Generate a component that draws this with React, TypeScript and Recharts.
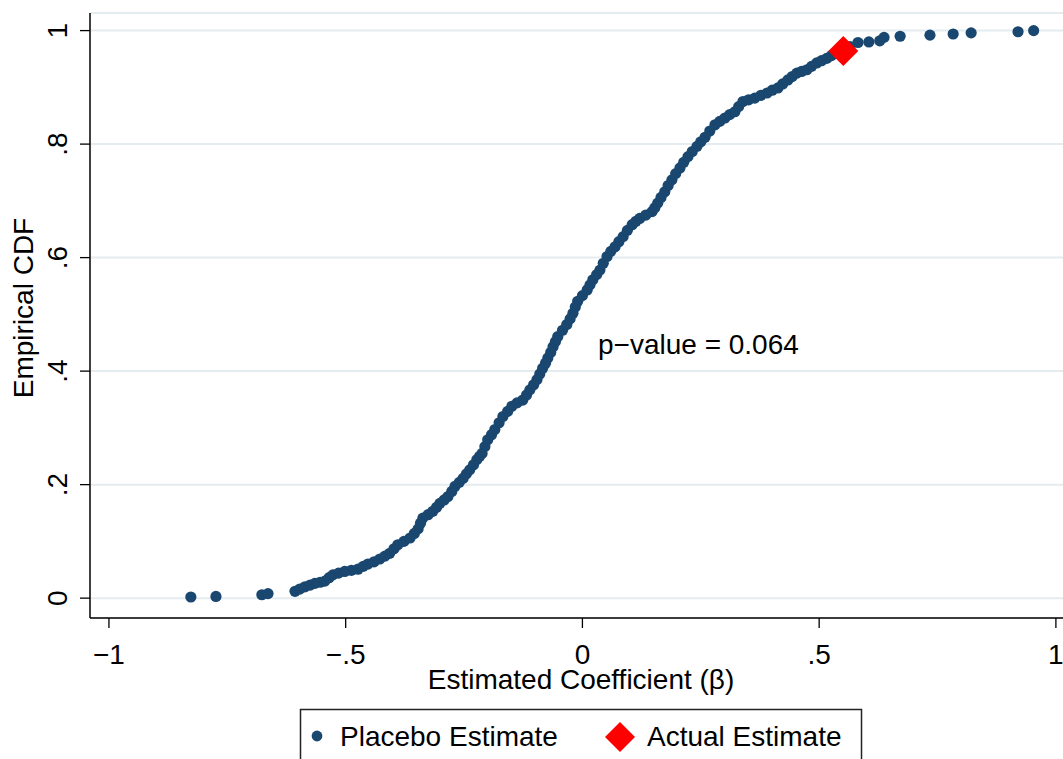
import { CartesianGrid, Scatter, ScatterChart, XAxis, YAxis, Label } from "recharts";

const NAVY = "#1a476f";
const RED = "#ff0000";
const GRID = "#e4ecef";
const FONT = "'Liberation Sans', Arial, Helvetica, sans-serif";

// sorted placebo coefficients and their empirical CDF
const placeboX = [
  -0.827, -0.774, -0.677, -0.664, -0.607, -0.597, -0.586, -0.575, -0.565, -0.554,
  -0.544, -0.535, -0.527, -0.515, -0.502, -0.488, -0.474, -0.463, -0.453, -0.44,
  -0.428, -0.417, -0.407, -0.398, -0.39, -0.377, -0.364, -0.355, -0.347, -0.342,
  -0.337, -0.326, -0.316, -0.308, -0.301, -0.292, -0.284, -0.276, -0.269, -0.26,
  -0.252, -0.245, -0.238, -0.23, -0.223, -0.217, -0.212, -0.206, -0.2, -0.192,
  -0.185, -0.176, -0.168, -0.158, -0.149, -0.138, -0.126, -0.118, -0.111, -0.103,
  -0.096, -0.09, -0.084, -0.078, -0.073, -0.067, -0.062, -0.057, -0.052, -0.042,
  -0.033, -0.026, -0.02, -0.015, -0.01, 0.0, 0.01, 0.016, 0.022, 0.03,
  0.037, 0.044, 0.052, 0.06, 0.069, 0.077, 0.086, 0.095, 0.105, 0.113,
  0.121, 0.134, 0.147, 0.153, 0.159, 0.166, 0.174, 0.181, 0.189, 0.197,
  0.206, 0.214, 0.223, 0.232, 0.242, 0.25, 0.259, 0.269, 0.28, 0.29,
  0.301, 0.311, 0.322, 0.33, 0.339, 0.351, 0.364, 0.377, 0.39, 0.401,
  0.413, 0.423, 0.434, 0.443, 0.453, 0.463, 0.474, 0.484, 0.495, 0.505,
  0.516, 0.526, 0.537, 0.551, 0.565, 0.582, 0.605, 0.628, 0.637, 0.671,
  0.734, 0.783, 0.821, 0.92, 0.953,
];
const placeboY = [
  0.002, 0.003, 0.006, 0.008, 0.012, 0.016, 0.02, 0.023, 0.026, 0.028,
  0.03, 0.036, 0.041, 0.044, 0.047, 0.049, 0.051, 0.056, 0.06, 0.064,
  0.069, 0.074, 0.079, 0.087, 0.094, 0.1, 0.106, 0.114, 0.122, 0.132,
  0.141, 0.147, 0.153, 0.16, 0.167, 0.173, 0.179, 0.188, 0.197, 0.204,
  0.211, 0.219, 0.226, 0.235, 0.244, 0.25, 0.255, 0.267, 0.279, 0.288,
  0.297, 0.309, 0.32, 0.329, 0.338, 0.344, 0.349, 0.358, 0.367, 0.376,
  0.385, 0.395, 0.405, 0.414, 0.423, 0.433, 0.443, 0.452, 0.461, 0.472,
  0.482, 0.492, 0.502, 0.513, 0.523, 0.533, 0.543, 0.552, 0.561, 0.57,
  0.578, 0.59, 0.602, 0.611, 0.619, 0.628, 0.637, 0.648, 0.658, 0.664,
  0.669, 0.675, 0.681, 0.688, 0.696, 0.706, 0.716, 0.727, 0.737, 0.748,
  0.758, 0.768, 0.778, 0.787, 0.796, 0.804, 0.812, 0.823, 0.834, 0.84,
  0.846, 0.852, 0.857, 0.866, 0.875, 0.878, 0.881, 0.886, 0.89, 0.895,
  0.899, 0.906, 0.913, 0.919, 0.925, 0.928, 0.931, 0.937, 0.943, 0.947,
  0.951, 0.956, 0.96, 0.966, 0.972, 0.979, 0.98, 0.982, 0.988, 0.99,
  0.992, 0.994, 0.996, 0.998, 1.0,
];

const actualX = [0.551];
const actualY = [0.964];

const xTicks = [-1, -0.5, 0, 0.5, 1];
const xTickLabels = ["\u22121", "\u2212.5", "0", ".5", "1"];
const yTicks = [0, 0.2, 0.4, 0.6, 0.8, 1];
const yTickLabels = ["0", ".2", ".4", ".6", ".8", "1"];

const pValueText = "p\u2212value = 0.064";

const placebo = placeboX.map((x, i) => ({ x, y: placeboY[i] }));
const actual = actualX.map((x, i) => ({ x, y: actualY[i] }));

function Dot(props: any) {
  const { cx, cy } = props;
  return <circle cx={cx} cy={cy} r={5.6} fill={NAVY} />;
}

function Diamond(props: any) {
  const { cx, cy } = props;
  const h = 15;
  return (
    <polygon
      points={`${cx},${cy - h} ${cx + h},${cy} ${cx},${cy + h} ${cx - h},${cy}`}
      fill={RED}
    />
  );
}

function XTick(props: any) {
  const { x, y, payload } = props;
  const i = xTicks.indexOf(payload.value);
  return (
    <text x={x} y={y + 34} textAnchor="middle" fontSize={28} fontFamily={FONT} fill="#000">
      {xTickLabels[i]}
    </text>
  );
}

function YTick(props: any) {
  const { x, y, payload } = props;
  const i = yTicks.indexOf(payload.value);
  const bx = x - 11;
  return (
    <text
      x={bx}
      y={y}
      transform={`rotate(-90, ${bx}, ${y})`}
      textAnchor="middle"
      fontSize={28}
      fontFamily={FONT}
      fill="#000"
    >
      {yTickLabels[i]}
    </text>
  );
}

export default function App() {
  return (
    <div style={{ position: "absolute", left: 0, top: 0, width: 1063, height: 759, background: "#fff", overflow: "hidden" }}>
      <ScatterChart width={1063} height={759} margin={{ top: 13, right: 0, bottom: 0, left: 0 }}>
        <CartesianGrid horizontal vertical={false} stroke={GRID} strokeWidth={2} />
        <XAxis
          type="number"
          dataKey="x"
          domain={[-1.04, 1.015]}
          ticks={xTicks}
          allowDataOverflow
          height={141}
          tickSize={10}
          tick={<XTick />}
          tickLine={{ stroke: "#000", strokeWidth: 1.3 }}
          axisLine={{ stroke: "#000", strokeWidth: 1.5 }}
        >
          <Label
            content={() => (
              <text x={581} y={689} textAnchor="middle" fontSize={28} fontFamily={FONT} fill="#000">
                Estimated Coefficient (β)
              </text>
            )}
          />
        </XAxis>
        <YAxis
          type="number"
          dataKey="y"
          domain={[-0.035, 1.031]}
          ticks={yTicks}
          allowDataOverflow
          width={90}
          tickSize={10}
          tick={<YTick />}
          tickLine={{ stroke: "#000", strokeWidth: 1.3 }}
          axisLine={{ stroke: "#000", strokeWidth: 1.5 }}
        >
          <Label
            content={() => (
              <text
                x={33}
                y={308}
                transform="rotate(-90, 33, 308)"
                textAnchor="middle"
                fontSize={28}
                fontFamily={FONT}
                fill="#000"
              >
                Empirical CDF
              </text>
            )}
          />
        </YAxis>
        <Scatter data={placebo} shape={<Dot />} isAnimationActive={false} />
        <Scatter data={actual} shape={<Diamond />} isAnimationActive={false} />
      </ScatterChart>

      <div
        style={{
          position: "absolute",
          left: 598,
          top: 329,
          fontFamily: FONT,
          fontSize: 28,
          lineHeight: "32px",
          color: "#000",
          whiteSpace: "nowrap",
        }}
      >
        {pValueText}
      </div>

      <svg style={{ position: "absolute", left: 0, top: 0 }} width={1063} height={759}>
        <rect x={300.5} y={709.5} width={561} height={80} fill="#fff" stroke="#222" strokeWidth={1.5} />
        <circle cx={317} cy={736} r={5.4} fill={NAVY} />
        <text x={340} y={746} fontSize={28} fontFamily={FONT} fill="#000">
          Placebo Estimate
        </text>
        <polygon points="620,722 635,737 620,752 605,737" fill={RED} />
        <text x={647} y={746} fontSize={28} fontFamily={FONT} fill="#000">
          Actual Estimate
        </text>
      </svg>
    </div>
  );
}
